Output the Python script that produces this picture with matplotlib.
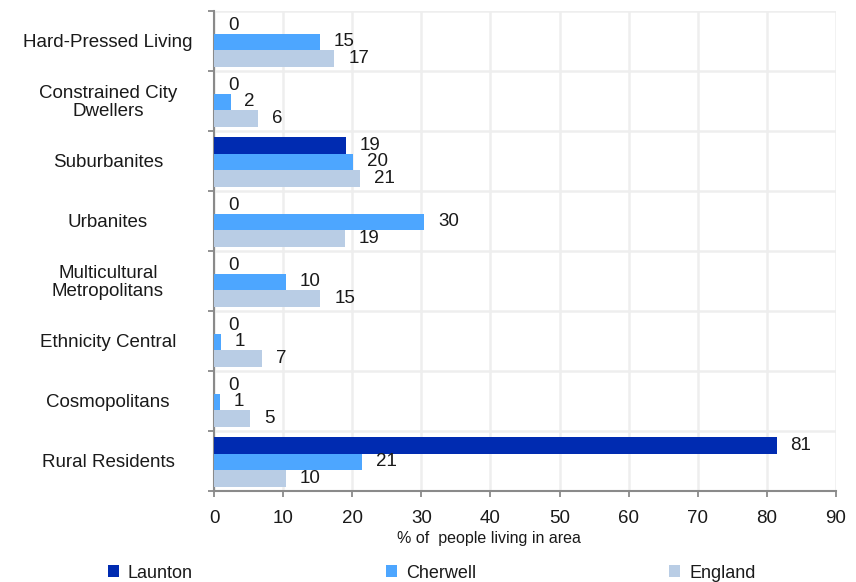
import matplotlib
matplotlib.use("Agg")
import matplotlib.pyplot as plt
import matplotlib.transforms as mtransforms
import numpy as np

plt.rcParams['font.family'] = ['Liberation Sans', 'DejaVu Sans']

categories = ["Hard-Pressed Living", "Constrained City\nDwellers", "Suburbanites",
              "Urbanites", "Multicultural\nMetropolitans", "Ethnicity Central",
              "Cosmopolitans", "Rural Residents"]
series_names = ["Launton", "Cherwell", "England"]
launton = [0, 0, 19.1, 0, 0, 0, 0, 81.4]
cherwell = [15.3, 2.4, 20.1, 30.4, 10.4, 1.0, 0.9, 21.4]
england = [17.4, 6.4, 21.1, 18.9, 15.4, 6.9, 5.2, 10.4]
colors = ["#002BB1", "#4DA6FF", "#B9CDE5"]

W, H = 856, 582
fig = plt.figure(figsize=(W / 100, H / 100), dpi=100)
ax = fig.add_axes([214 / W, 1 - 491 / H, (836 - 214) / W, 480 / H])

y = np.arange(len(categories))
offsets = [-0.26, 0.015, 0.29]
bh = 0.275
text_col = "#1a1a1a"

for vals, name, col, off in zip([launton, cherwell, england], series_names, colors, offsets):
    bars = ax.barh(y + off, vals, height=bh, color=col, label=name, zorder=3)
    ax.bar_label(bars, labels=[f"{v:.0f}" for v in vals], padding=10,
                 fontsize=13.5, color=text_col)

ax.set_xlim(0, 90)
ax.set_ylim(len(categories) - 0.5, -0.5)
ax.set_xticks(np.arange(0, 91, 10))
ax.set_yticks(np.arange(-0.5, len(categories), 1.0))
ax.set_yticklabels([])

ax.grid(True, color="#eeeeee", linewidth=1.8, zorder=0)
ax.set_axisbelow(True)
for s in ["top", "right"]:
    ax.spines[s].set_visible(False)
for s in ["left", "bottom"]:
    ax.spines[s].set_color("#8a8a8a")
    ax.spines[s].set_linewidth(1.5)
ax.tick_params(axis="both", colors="#8a8a8a", length=4, width=1.3)
ax.tick_params(axis="x", labelcolor=text_col, labelsize=13.5, pad=10)

# category labels centred in the left margin
trans = mtransforms.blended_transform_factory(fig.transFigure, ax.transData)
for yi, cat in zip(y, categories):
    ax.text(108 / W, yi + 0.02, cat, transform=trans, ha="center", va="center",
            fontsize=13.5, color=text_col, linespacing=1.1)

fig.text(488.5 / W, 1 - 538 / H, "% of  people living in area", ha="center",
         va="center", fontsize=11.5, color=text_col)

fig.legend(loc="center left", bbox_to_anchor=(108 / W, 1 - 573 / H), ncol=3,
           frameon=False, fontsize=13, handlelength=0.6, handleheight=0.6,
           handletextpad=0.5, columnspacing=10.7, borderpad=0, borderaxespad=0,
           labelcolor=text_col)

fig.savefig("out.png", dpi=100)
